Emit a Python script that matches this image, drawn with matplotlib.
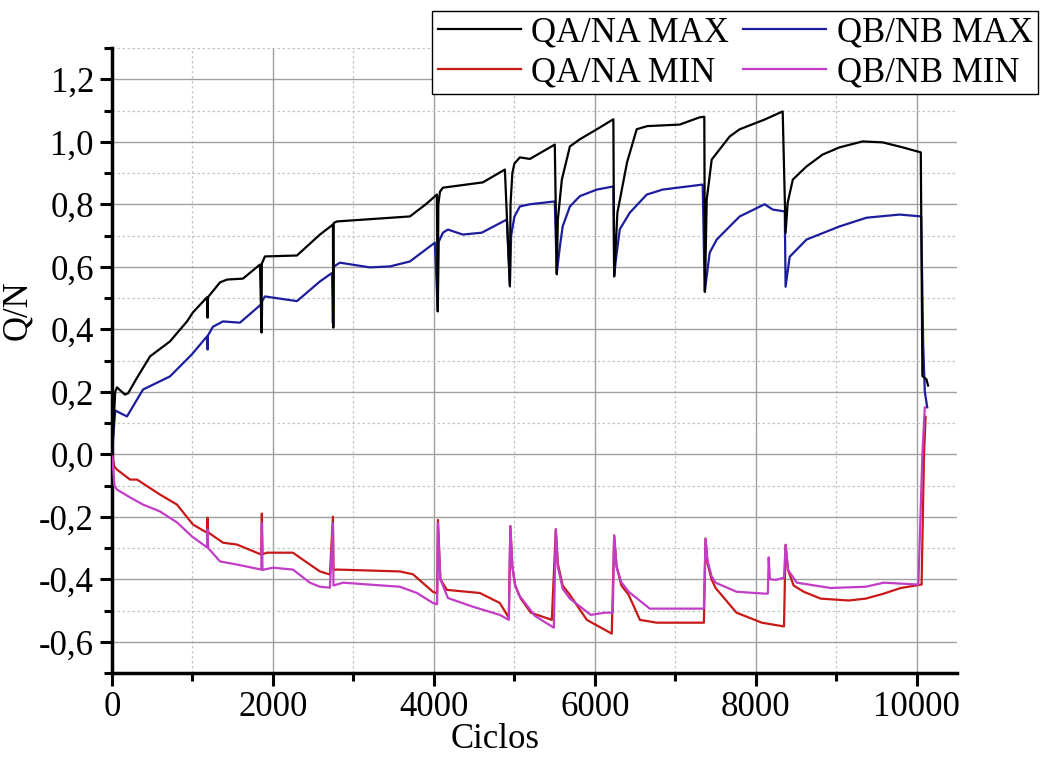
import matplotlib

matplotlib.use("Agg")
import matplotlib.pyplot as plt
from matplotlib.ticker import MultipleLocator, FuncFormatter

# Ciclos / Q/N, four envelopes
QA_MAX_X = [0, 40, 62, 100, 161, 200, 300, 472, 720, 932, 1006, 1180, 1188, 1192, 1200,
            1342, 1429, 1627, 1839, 1858, 1862, 1900, 2298, 2584, 2745, 2750, 2755, 2795,
            3702, 3900, 4037, 4048, 4055, 4075, 4112, 4608, 4882, 4944, 4952, 4975, 5000,
            5068, 5193, 5502, 5527, 5540, 5590, 5690, 5814, 6025, 6230, 6240, 6280, 6400,
            6520, 6650, 7055, 7300, 7360, 7368, 7390, 7452, 7676, 7800, 8100, 8334, 8370,
            8396, 8460, 8630, 8830, 9040, 9327, 9576, 9825, 10050, 10070, 10120, 10140]
QA_MAX_Y = [0.0, 0.20, 0.214, 0.205, 0.191, 0.195, 0.24, 0.313, 0.361, 0.425, 0.454, 0.502,
            0.437, 0.50, 0.505, 0.55, 0.559, 0.562, 0.607, 0.39, 0.61, 0.633, 0.636, 0.703,
            0.735, 0.405, 0.74, 0.745, 0.761, 0.80, 0.831, 0.457, 0.80, 0.84, 0.853, 0.87,
            0.911, 0.537, 0.80, 0.90, 0.93, 0.95, 0.945, 0.991, 0.576, 0.751, 0.879, 0.985,
            1.008, 1.040, 1.072, 0.569, 0.773, 0.934, 1.04, 1.05, 1.055, 1.078, 1.08, 0.52,
            0.815, 0.943, 1.017, 1.04, 1.07, 1.097, 0.709, 0.805, 0.879, 0.921, 0.959, 0.982,
            1.001, 0.998, 0.982, 0.966, 0.25, 0.24, 0.22]

QB_MAX_X = [0, 40, 62, 186, 385, 720, 994, 1180, 1188, 1192, 1254, 1379, 1590, 1855, 1860,
            1866, 1900, 2298, 2584, 2733, 2745, 2752, 2832, 3204, 3453, 3702, 4012, 4048,
            4060, 4112, 4174, 4360, 4595, 4906, 4944, 4960, 5000, 5068, 5193, 5502, 5527,
            5565, 5600, 5690, 5814, 6025, 6230, 6240, 6260, 6310, 6434, 6645, 6843, 7340,
            7365, 7427, 7514, 7676, 7800, 8110, 8210, 8360, 8370, 8421, 8630, 9040, 9377,
            9787, 10055, 10080, 10100, 10130]
QB_MAX_Y = [0.0, 0.14, 0.137, 0.121, 0.207, 0.249, 0.32, 0.377, 0.335, 0.38, 0.408, 0.425,
            0.421, 0.48, 0.39, 0.49, 0.505, 0.49, 0.553, 0.58, 0.42, 0.60, 0.613, 0.598,
            0.601, 0.617, 0.677, 0.46, 0.68, 0.709, 0.719, 0.703, 0.709, 0.751, 0.54, 0.70,
            0.76, 0.793, 0.80, 0.809, 0.58, 0.664, 0.729, 0.793, 0.826, 0.847, 0.857, 0.57,
            0.62, 0.72, 0.773, 0.831, 0.847, 0.863, 0.52, 0.645, 0.687, 0.729, 0.761, 0.80,
            0.783, 0.777, 0.536, 0.632, 0.687, 0.729, 0.757, 0.767, 0.761, 0.35, 0.20, 0.15]

QA_MIN_X = [0, 30, 62, 224, 311, 596, 807, 1006, 1180, 1188, 1195, 1379, 1553, 1855, 1862,
            1870, 1925, 2248, 2459, 2584, 2708, 2745, 2752, 2795, 3577, 3739, 3987, 4040,
            4050, 4080, 4161, 4571, 4819, 4931, 4950, 4975, 5010, 5080, 5204, 5465, 5515,
            5540, 5600, 5690, 5900, 6210, 6240, 6270, 6330, 6420, 6560, 6770, 7355, 7375,
            7400, 7450, 7500, 7760, 8075, 8350, 8370, 8400, 8470, 8595, 8806, 9155, 9365,
            9590, 9800, 10060, 10090, 10110]
QA_MIN_Y = [0.0, -0.04, -0.049, -0.081, -0.081, -0.129, -0.161, -0.225, -0.251, -0.203,
            -0.25, -0.283, -0.289, -0.321, -0.19, -0.32, -0.315, -0.315, -0.353, -0.375,
            -0.385, -0.20, -0.37, -0.369, -0.375, -0.384, -0.44, -0.445, -0.21, -0.40,
            -0.434, -0.444, -0.476, -0.523, -0.23, -0.36, -0.42, -0.462, -0.507, -0.53,
            -0.24, -0.35, -0.42, -0.45, -0.53, -0.574, -0.26, -0.36, -0.42, -0.45, -0.53,
            -0.539, -0.539, -0.27, -0.35, -0.40, -0.428, -0.507, -0.539, -0.551, -0.29,
            -0.37, -0.42, -0.44, -0.462, -0.468, -0.462, -0.446, -0.428, -0.417, 0.0, 0.12]

QB_MIN_X = [0, 30, 62, 224, 385, 596, 807, 994, 1180, 1188, 1195, 1342, 1553, 1855, 1862,
            1870, 2000, 2248, 2459, 2584, 2708, 2745, 2752, 2870, 3577, 3790, 3987, 4040,
            4050, 4080, 4174, 4485, 4819, 4931, 4950, 4975, 5010, 5055, 5254, 5490, 5515,
            5540, 5600, 5690, 5949, 6123, 6223, 6240, 6270, 6330, 6420, 6682, 7355, 7375,
            7400, 7450, 7500, 7760, 8110, 8150, 8160, 8175, 8250, 8350, 8370, 8400, 8510,
            8930, 9365, 9590, 10020, 10070, 10100]
QB_MIN_Y = [0.0, -0.10, -0.113, -0.138, -0.161, -0.183, -0.218, -0.263, -0.298, -0.24,
            -0.30, -0.343, -0.353, -0.369, -0.22, -0.37, -0.363, -0.369, -0.411, -0.424,
            -0.427, -0.22, -0.42, -0.411, -0.424, -0.444, -0.476, -0.48, -0.22, -0.40,
            -0.46, -0.488, -0.514, -0.53, -0.23, -0.36, -0.42, -0.45, -0.517, -0.555,
            -0.24, -0.36, -0.43, -0.462, -0.514, -0.507, -0.507, -0.26, -0.36, -0.41,
            -0.44, -0.494, -0.494, -0.27, -0.34, -0.39, -0.411, -0.44, -0.446, -0.446,
            -0.33, -0.40, -0.402, -0.395, -0.29, -0.37, -0.411, -0.428, -0.424, -0.411,
            -0.417, 0.0, 0.15]

LABELS = ["QA/NA MAX", "QA/NA MIN", "QB/NB MAX", "QB/NB MIN"]
COLORS = ["#000000", "#c81818", "#1c1c9c", "#c23cc8"]

plt.rcParams["font.family"] = ["Liberation Serif", "DejaVu Serif"]
plt.rcParams["font.size"] = 25

fig = plt.figure(figsize=(10.47, 7.58), dpi=100)
ax = fig.add_axes([112 / 1047, 85 / 758, 845 / 1047, 625 / 758])

series = [(QA_MAX_X, QA_MAX_Y), (QA_MIN_X, QA_MIN_Y),
          (QB_MAX_X, QB_MAX_Y), (QB_MIN_X, QB_MIN_Y)]
handles = []
for (xs, ys), lab, col in zip(series, LABELS, COLORS):
    h, = ax.plot(xs, ys, color=col, lw=1.6, label=lab, zorder=3)
    handles.append(h)
# black trace sits above the blue one
handles[0].set_zorder(4)

ax.set_xlim(0, 10500)
ax.set_ylim(-0.7, 1.3)
ax.xaxis.set_major_locator(MultipleLocator(2000))
ax.xaxis.set_minor_locator(MultipleLocator(1000))
ax.yaxis.set_major_locator(MultipleLocator(0.2))
ax.yaxis.set_minor_locator(MultipleLocator(0.1))
ax.yaxis.set_major_formatter(FuncFormatter(lambda v, p: f"{v:.1f}".replace(".", ",")))

ax.grid(which="major", color="#a0a0a0", lw=1.0, ls="-", zorder=0)
ax.grid(which="minor", color="#c4c4c4", lw=0.9, ls=(0, (2, 2)), zorder=0)
ax.set_axisbelow(True)

for side in ("top", "right"):
    ax.spines[side].set_visible(False)
for side in ("left", "bottom"):
    ax.spines[side].set_linewidth(2.5)
ax.tick_params(which="major", direction="out", length=9, width=2.2, pad=4)
ax.tick_params(which="minor", direction="out", length=6, width=2.2)

ax.set_xlabel("Ciclos")
ax.xaxis.set_label_coords(0.453, -0.08)
ax.set_ylabel("Q/N")
ax.yaxis.set_label_coords(-0.092, 0.58)

leg = fig.legend(handles=handles, loc="upper right", ncol=2,
                 bbox_to_anchor=(1038 / 1047, 1 - 11 / 758),
                 frameon=True, fancybox=False, edgecolor="#000000",
                 framealpha=1.0, borderpad=0.15, labelspacing=0.2,
                 handlelength=2.4, handletextpad=0.3, columnspacing=0.4,
                 borderaxespad=0.0)
leg.get_frame().set_linewidth(1.0)

fig.savefig("out.png", dpi=100)
